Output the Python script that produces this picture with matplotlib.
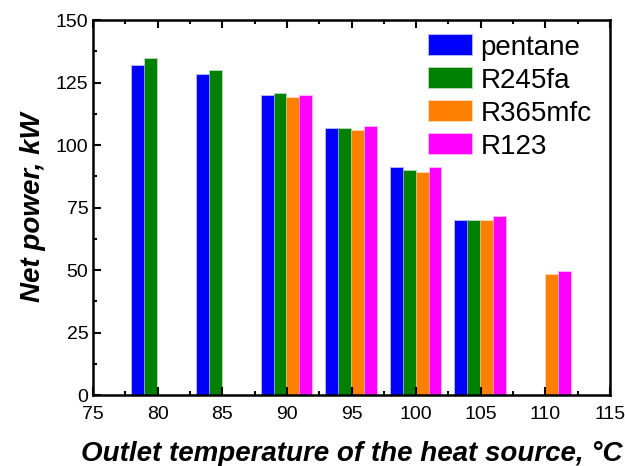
import matplotlib
matplotlib.use("Agg")
import matplotlib.pyplot as plt
from matplotlib.ticker import MultipleLocator
from matplotlib.colors import to_rgba
import numpy as np

plt.rcParams['font.family'] = ['Liberation Sans', 'DejaVu Sans']

temps = [80, 85, 90, 95, 100, 105, 110]
fluids = ["pentane", "R245fa", "R365mfc", "R123"]
colors = ["#0000ff", "#008000", "#ff8000", "#ff00ff"]
pentane = [131.5, 128.0, 119.5, 106.3, 90.9, 69.8, np.nan]
r245fa = [134.6, 129.7, 120.3, 106.3, 89.6, 69.8, np.nan]
r365mfc = [np.nan, np.nan, 119.0, 105.8, 89.0, 69.8, 48.0]
r123 = [np.nan, np.nan, 119.5, 107.1, 90.9, 71.4, 49.4]
series = [pentane, r245fa, r365mfc, r123]
offsets = [-1.5, -0.5, 0.5, 1.5]

fig = plt.figure(figsize=(6.25, 4.66), dpi=100)
ax = fig.add_axes([0.149, 0.152, 0.827, 0.805])

for vals, c, off, name in zip(series, colors, offsets, fluids):
    x = np.array(temps, dtype=float) + off
    ax.bar(x, vals, width=0.92, color=c, edgecolor=to_rgba(c, 0.3),
           linewidth=1.5, label=name)

ax.set_xlim(75, 115)
ax.set_ylim(0, 150)
ax.xaxis.set_major_locator(MultipleLocator(5))
ax.xaxis.set_minor_locator(MultipleLocator(2.5))
ax.yaxis.set_major_locator(MultipleLocator(25))
ax.yaxis.set_minor_locator(MultipleLocator(12.5))
ax.tick_params(which='both', direction='in', top=True, right=False, width=1.5)
ax.tick_params(which='major', length=6, labelsize=14)
ax.tick_params(which='minor', length=3)
ax.tick_params(axis='x', which='both', pad=8)
for s in ax.spines.values():
    s.set_linewidth(1.8)

ax.set_xlabel("Outlet temperature of the heat source, °C", fontsize=20,
              fontweight='bold', fontstyle='italic', labelpad=13)
ax.set_ylabel("Net power, kW", fontsize=20, fontweight='bold',
              fontstyle='italic', labelpad=7)

ax.legend(loc='upper left', bbox_to_anchor=(0.612, 1.012), frameon=False,
          fontsize=20, handlelength=1.55, handleheight=0.75,
          handletextpad=0.3, labelspacing=0.25, borderaxespad=0.3)

fig.savefig("out.png", dpi=100)
